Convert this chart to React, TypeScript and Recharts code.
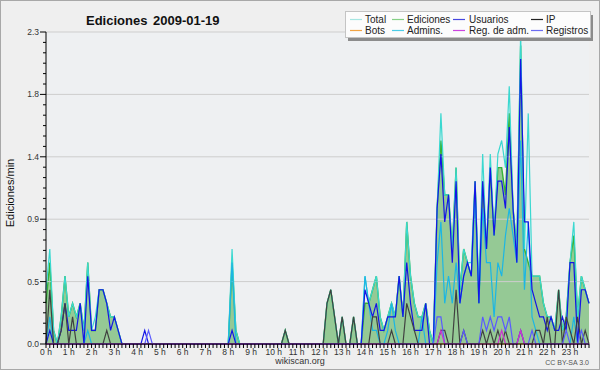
import { ComposedChart, Area, Line, XAxis, YAxis, ReferenceLine, CartesianGrid } from "recharts";

const FONT = "'Liberation Sans', Arial, sans-serif";

// one point every 10 minutes, 0h00 .. 23h50
const hourLabels = [
  "0 h", "1 h", "2 h", "3 h", "4 h", "5 h", "6 h", "7 h", "8 h", "9 h", "10 h", "11 h",
  "12 h", "13 h", "14 h", "15 h", "16 h", "17 h", "18 h", "19 h", "20 h", "21 h", "22 h", "23 h",
];

const yTickValues = [0, 0.46, 0.92, 1.38, 1.84, 2.3];
const yTickLabels = ["0.0", "0.5", "0.9", "1.4", "1.8", "2.3"];

// two hours per row
const total = [
  0.4, 0.7, 0.1, 0, 0.2, 0.5, 0.2, 0.3, 0.2, 0.3, 0.1, 0.6,
  0.1, 0.2, 0.4, 0.4, 0.3, 0.2, 0.2, 0.1, 0, 0, 0, 0,
  0, 0, 0, 0, 0, 0, 0, 0, 0, 0, 0, 0,
  0, 0, 0, 0, 0, 0, 0, 0, 0, 0, 0, 0,
  0, 0.7, 0.1, 0, 0, 0, 0, 0, 0, 0, 0, 0,
  0, 0, 0, 0.1, 0, 0, 0, 0, 0, 0, 0, 0,
  0, 0, 0.3, 0.4, 0.2, 0, 0.2, 0, 0, 0.2, 0, 0,
  0.5, 0.3, 0.4, 0.5, 0.2, 0.1, 0.2, 0.3, 0.2, 0.5, 0.2, 0.9,
  0.5, 0.3, 0.2, 0.2, 0.3, 0.1, 0, 1.0, 1.7, 1.1, 1.1, 0.7,
  1.3, 0.4, 0.7, 0.6, 0.6, 1.2, 0.4, 1.4, 0.7, 1.4, 0.8, 1.4,
  1.5, 1.3, 1.9, 1.0, 0.7, 2.3, 0.7, 1.7, 0.5, 0.5, 0.5, 0.3,
  0.2, 0.2, 0.1, 0.4, 0.1, 0.2, 0.6, 0.9, 0.2, 0.5, 0.4, 0.3,
];

const ediciones = [
  0.3, 0.6, 0.1, 0, 0.2, 0.5, 0.2, 0.3, 0.2, 0.3, 0.1, 0.6,
  0.1, 0.1, 0.4, 0.4, 0.3, 0.2, 0.2, 0.1, 0, 0, 0, 0,
  0, 0, 0, 0, 0, 0, 0, 0, 0, 0, 0, 0,
  0, 0, 0, 0, 0, 0, 0, 0, 0, 0, 0, 0,
  0, 0.6, 0.1, 0, 0, 0, 0, 0, 0, 0, 0, 0,
  0, 0, 0, 0.1, 0, 0, 0, 0, 0, 0, 0, 0,
  0, 0, 0.3, 0.4, 0.2, 0, 0.2, 0, 0, 0.2, 0, 0,
  0.3, 0.3, 0.4, 0.5, 0.2, 0.1, 0.2, 0.3, 0.2, 0.5, 0.2, 0.9,
  0.5, 0.3, 0.2, 0.2, 0.3, 0.1, 0, 1.0, 1.5, 1.1, 1.1, 0.7,
  1.3, 0.4, 0.7, 0.6, 0.5, 1.2, 0.3, 1.2, 0.7, 1.3, 0.8, 1.3,
  1.3, 1.1, 1.7, 1.0, 0.7, 2.2, 0.7, 0.6, 0.5, 0.5, 0.5, 0.3,
  0.2, 0.2, 0.1, 0.4, 0.1, 0.2, 0.6, 0.8, 0.2, 0.5, 0.4, 0.3,
];

const usuarios = [
  0, 0.1, 0, 0, 0.1, 0.3, 0.1, 0.1, 0.1, 0.3, 0, 0.5,
  0.1, 0.1, 0.4, 0.4, 0.3, 0.1, 0.2, 0.1, 0, 0, 0, 0,
  0, 0, 0.1, 0, 0, 0, 0, 0, 0, 0, 0, 0,
  0, 0, 0, 0, 0, 0, 0, 0, 0, 0, 0, 0,
  0, 0.1, 0, 0, 0, 0, 0, 0, 0, 0, 0, 0,
  0, 0, 0, 0, 0, 0, 0, 0, 0, 0, 0, 0,
  0, 0, 0, 0, 0, 0, 0, 0, 0, 0, 0, 0,
  0.4, 0.3, 0.2, 0.3, 0.1, 0.1, 0.2, 0.2, 0.2, 0.5, 0.2, 0.6,
  0.3, 0.1, 0.1, 0.1, 0.3, 0, 0, 1.0, 1.4, 0.9, 1.1, 0.6,
  1.2, 0.3, 0.5, 0.6, 0.5, 1.2, 0.3, 1.2, 0.7, 1.3, 0.8, 1.2,
  1.2, 1.0, 1.6, 1.0, 0.6, 2.1, 0.9, 0.9, 0.4, 0.3, 0.2, 0.2,
  0.1, 0.2, 0.1, 0.1, 0.2, 0.1, 0.6, 0.6, 0, 0.4, 0.4, 0.3,
];

const ip = [
  0, 0.4, 0, 0, 0.1, 0.3, 0, 0.2, 0, 0, 0, 0,
  0, 0, 0, 0, 0.1, 0, 0, 0, 0, 0, 0, 0,
  0, 0, 0, 0, 0, 0, 0, 0, 0, 0, 0, 0,
  0, 0, 0, 0, 0, 0, 0, 0, 0, 0, 0, 0,
  0, 0, 0, 0, 0, 0, 0, 0, 0, 0, 0, 0,
  0, 0, 0, 0.1, 0, 0, 0, 0, 0, 0, 0, 0,
  0, 0, 0.3, 0.4, 0.2, 0, 0.2, 0, 0, 0.2, 0, 0,
  0, 0, 0.2, 0.2, 0, 0, 0, 0.1, 0, 0, 0, 0.3,
  0.2, 0.1, 0, 0, 0, 0, 0, 0, 0.1, 0.1, 0, 0,
  0.4, 0, 0.1, 0, 0, 0, 0, 0.1, 0, 0.1, 0, 0.1,
  0, 0.1, 0, 0, 0, 0.1, 0, 0, 0, 0.1, 0.1, 0,
  0.2, 0, 0, 0.4, 0, 0.2, 0.1, 0, 0.2, 0, 0.1, 0,
];

const admins = [
  0, 0.2, 0, 0, 0, 0, 0, 0, 0, 0, 0, 0.1,
  0, 0, 0, 0, 0, 0, 0, 0, 0, 0, 0, 0,
  0, 0, 0, 0, 0, 0, 0, 0, 0, 0, 0, 0,
  0, 0, 0, 0, 0, 0, 0, 0, 0, 0, 0, 0,
  0, 0.6, 0, 0, 0, 0, 0, 0, 0, 0, 0, 0,
  0, 0, 0, 0, 0, 0, 0, 0, 0, 0, 0, 0,
  0, 0, 0, 0, 0, 0, 0, 0, 0, 0, 0, 0,
  0.5, 0.3, 0.1, 0.1, 0, 0, 0.1, 0.3, 0.1, 0, 0, 0,
  0, 0, 0, 0.2, 0, 0, 0, 0.6, 0.9, 0.3, 0.5, 0.3,
  0.6, 0.3, 0.5, 0.6, 0.5, 1.1, 0.3, 1.0, 0.6, 0.6, 0.2, 0.6,
  0.5, 0.8, 1.0, 0.8, 0.6, 1.5, 0.4, 0.9, 0.2, 0.1, 0, 0,
  0, 0, 0, 0, 0, 0, 0, 0.2, 0, 0, 0, 0,
];

const registros = [
  0, 0, 0, 0, 0, 0, 0, 0, 0, 0, 0, 0,
  0, 0, 0, 0, 0, 0, 0, 0, 0, 0, 0, 0,
  0, 0, 0, 0.1, 0, 0, 0, 0, 0, 0, 0, 0,
  0, 0, 0, 0, 0, 0, 0, 0, 0, 0, 0, 0,
  0, 0, 0, 0, 0, 0, 0, 0, 0, 0, 0, 0,
  0, 0, 0, 0, 0, 0, 0, 0, 0, 0, 0, 0,
  0, 0, 0, 0, 0, 0, 0, 0, 0, 0, 0, 0,
  0, 0, 0, 0, 0, 0, 0, 0, 0, 0, 0, 0,
  0, 0, 0, 0, 0, 0, 0, 0.2, 0.2, 0, 0, 0,
  0, 0, 0.1, 0, 0, 0, 0, 0.2, 0.1, 0.2, 0.1, 0.2,
  0.2, 0.1, 0.2, 0, 0, 0.1, 0, 0, 0.1, 0, 0, 0,
  0, 0, 0, 0, 0, 0.1, 0, 0, 0, 0.1, 0, 0,
];

const regAdm = [
  0, 0, 0, 0, 0, 0, 0, 0, 0, 0, 0, 0,
  0, 0, 0, 0, 0, 0, 0, 0, 0, 0, 0, 0,
  0, 0, 0, 0, 0, 0, 0, 0, 0, 0, 0, 0,
  0, 0, 0, 0, 0, 0, 0, 0, 0, 0, 0, 0,
  0, 0, 0, 0, 0, 0, 0, 0, 0, 0, 0, 0,
  0, 0, 0, 0, 0, 0, 0, 0, 0, 0, 0, 0,
  0, 0, 0, 0, 0, 0, 0, 0, 0, 0, 0, 0,
  0, 0, 0, 0, 0, 0, 0, 0, 0, 0, 0, 0,
  0, 0, 0, 0, 0, 0, 0, 0, 0.1, 0, 0, 0,
  0, 0, 0, 0, 0, 0, 0, 0, 0, 0, 0, 0,
  0.1, 0, 0, 0, 0, 0.1, 0, 0, 0, 0, 0, 0,
  0, 0, 0, 0, 0, 0, 0, 0, 0, 0, 0, 0,
];

const bots = [
  0, 0, 0, 0, 0, 0, 0, 0, 0, 0, 0, 0,
  0, 0, 0, 0, 0, 0, 0, 0, 0, 0, 0, 0,
  0, 0, 0, 0, 0, 0, 0, 0, 0, 0, 0, 0,
  0, 0, 0, 0, 0, 0, 0, 0, 0, 0, 0, 0,
  0, 0, 0, 0, 0, 0, 0, 0, 0, 0, 0, 0,
  0, 0, 0, 0, 0, 0, 0, 0, 0, 0, 0, 0,
  0, 0, 0, 0, 0, 0, 0, 0, 0, 0, 0, 0,
  0, 0, 0, 0, 0, 0, 0, 0, 0, 0, 0, 0,
  0, 0, 0, 0, 0, 0, 0, 0, 0, 0, 0, 0,
  0, 0, 0, 0, 0, 0, 0, 0, 0, 0, 0, 0,
  0, 0, 0, 0, 0, 0, 0, 0, 0, 0, 0, 0,
  0, 0, 0, 0, 0, 0, 0, 0, 0, 0, 0, 0,
];

// legend order: row 1 then row 2
const legendItems = [
  { name: "Total", color: "#a6e6e2" },
  { name: "Ediciones", color: "#86d086" },
  { name: "Usuarios", color: "#4646e0" },
  { name: "IP", color: "#222222" },
  { name: "Bots", color: "#f2a444" },
  { name: "Admins.", color: "#4ccce6" },
  { name: "Reg. de adm.", color: "#cc44e0" },
  { name: "Registros", color: "#6c6cf2" },
];
const legendCols = [
  { line: 350, text: 365 },
  { line: 392, text: 407 },
  { line: 453, text: 469 },
  { line: 531, text: 546 },
];

const rows = total.map((_, i) => ({
  slot: i,
  total: total[i],
  ediciones: ediciones[i],
  usuarios: usuarios[i],
  ip: ip[i],
  admins: admins[i],
  registros: registros[i],
  regAdm: regAdm[i],
  bots: bots[i],
}));

const slotTicks = rows.map((r) => r.slot);

// 6 minor steps between labelled ticks
const yAllTicks: number[] = [];
for (let m = 0; m < yTickValues.length - 1; m++) {
  const step = (yTickValues[m + 1] - yTickValues[m]) / 6;
  for (let s = 0; s < 6; s++) yAllTicks.push(yTickValues[m] + s * step);
}
yAllTicks.push(yTickValues[yTickValues.length - 1]);

const YTick = (props: any) => {
  const { x, y, payload } = props;
  const idx = yTickValues.findIndex((v) => Math.abs(v - payload.value) < 1e-6);
  const major = idx >= 0;
  return (
    <g>
      <line x1={x - (major ? 6 : 3)} x2={x} y1={y} y2={y} stroke="#000" />
      {major && (
        <text x={x - 7} y={y + 3} textAnchor="end" fontSize={8.5} fill="#333" fontFamily={FONT}>
          {yTickLabels[idx]}
        </text>
      )}
    </g>
  );
};

const XTick = (props: any) => {
  const { x, y, payload } = props;
  const slot = payload.value;
  return (
    <g>
      <line x1={x} x2={x} y1={y} y2={y + 4} stroke="#000" />
      {slot % 6 === 0 && (
        <text x={x} y={y + 11} textAnchor="middle" fontSize={8.5} fill="#333" fontFamily={FONT}>
          {hourLabels[slot / 6]}
        </text>
      )}
    </g>
  );
};

const lineProps = { type: "linear" as const, dot: false, activeDot: false, strokeWidth: 1.2, isAnimationActive: false };

export default function App() {
  return (
    <div style={{ position: "absolute", left: 0, top: 0, width: 600, height: 370, background: "#efefef" }}>
      <ComposedChart width={600} height={370} data={rows} margin={{ top: 32, right: 11, bottom: 0, left: 0 }}>
        <CartesianGrid horizontal={false} vertical={false} fill="#eef0f2" />
        {yTickValues.slice(1).map((v) => (
          <ReferenceLine key={v} y={v} stroke="#cdcdcd" strokeWidth={1} />
        ))}
        <Line dataKey="bots" stroke="#ff9a1a" {...lineProps} />
        <Area
          type="linear"
          dataKey="ediciones"
          stroke="#36b336"
          strokeWidth={1.4}
          fill="#95c995"
          fillOpacity={1}
          dot={false}
          activeDot={false}
          isAnimationActive={false}
        />
        <Line dataKey="total" stroke="#3ad8d0" {...lineProps} />
        <Line dataKey="admins" stroke="#1cb6e4" {...lineProps} />
        <Line dataKey="usuarios" stroke="#1414e6" {...lineProps} />
        <Line dataKey="ip" stroke="#404040" {...lineProps} />
        <Line dataKey="registros" stroke="#5a5aff" {...lineProps} />
        <Line dataKey="regAdm" stroke="#d030d0" {...lineProps} />
        <XAxis
          dataKey="slot"
          type="number"
          domain={[0, 143]}
          ticks={slotTicks}
          interval={0}
          height={26}
          tickSize={0}
          tickMargin={0}
          tickLine={false}
          axisLine={{ stroke: "#000" }}
          tick={XTick}
        />
        <YAxis
          type="number"
          domain={[0, 2.3]}
          ticks={yAllTicks}
          interval={0}
          width={46}
          tickSize={0}
          tickMargin={0}
          tickLine={false}
          axisLine={{ stroke: "#000" }}
          tick={YTick}
        />
      </ComposedChart>
      <svg width={600} height={370} style={{ position: "absolute", left: 0, top: 0, pointerEvents: "none" }}>
        <rect x={0.5} y={0.5} width={599} height={369} fill="none" stroke="#a8a8a8" />
        <text x={86} y={25} fontSize={13} fontWeight="bold" fill="#111" fontFamily={FONT}>
          Ediciones
        </text>
        <text x={153} y={25} fontSize={13} fontWeight="bold" fill="#111" fontFamily={FONT}>
          2009-01-19
        </text>
        <text
          x={0}
          y={0}
          transform="translate(14 193) rotate(-90)"
          textAnchor="middle"
          fontSize={11}
          fill="#111"
          fontFamily={FONT}
        >
          Ediciones/min
        </text>
        <text x={300} y={364} textAnchor="middle" fontSize={9} fill="#333" fontFamily={FONT}>
          wikiscan.org
        </text>
        <text x={589} y={365} textAnchor="end" fontSize={7} fill="#555" fontFamily={FONT}>
          CC BY-SA 3.0
        </text>
        <rect x={348} y={15} width={245} height={26} fill="#8c8c8c" />
        <rect x={345.5} y={11.5} width={245} height={26} fill="#fcfcfc" stroke="#c4c4c4" />
        {legendItems.map((it, i) => {
          const col = legendCols[i % 4];
          const rowY = i < 4 ? 19.5 : 30.5;
          return (
            <g key={it.name}>
              <line x1={col.line} x2={col.line + 12} y1={rowY} y2={rowY} stroke={it.color} strokeWidth={1.2} />
              <text x={col.text} y={rowY + 3.5} fontSize={10} fill="#222" fontFamily={FONT}>
                {it.name}
              </text>
            </g>
          );
        })}
      </svg>
    </div>
  );
}
